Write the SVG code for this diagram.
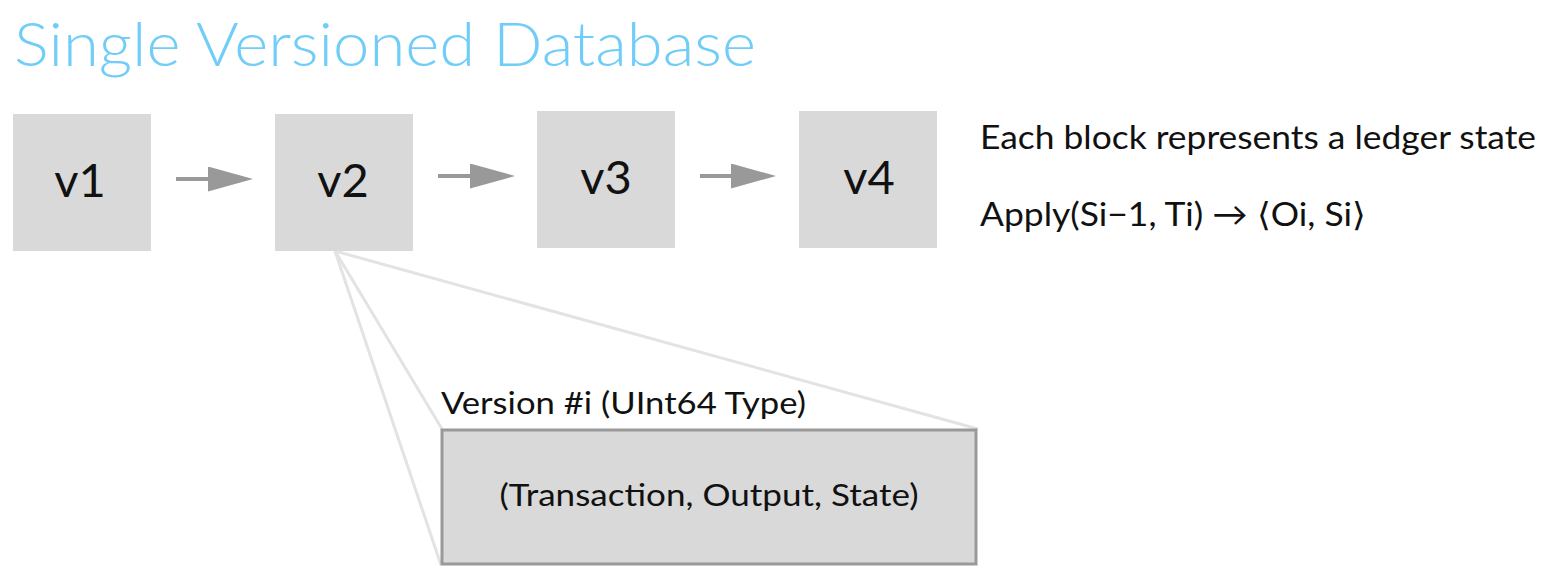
<svg xmlns="http://www.w3.org/2000/svg" width="1548" height="588" viewBox="0 0 1548 588">
<style>
  .blk { fill: #d9d9d9; }
  .lbl { font-family: Lato, "Open Sans", "Liberation Sans", sans-serif; fill: #111; }
  .vl { font-size: 47px; text-anchor: middle; }
  .arrow { stroke: #999; stroke-width: 4; fill: none; }
  .zoom { stroke: #e3e3e3; stroke-width: 3; fill: none; }
</style>
<defs>
  <marker id="ah" markerUnits="userSpaceOnUse" markerWidth="46" markerHeight="26" refX="0" refY="12.5" orient="auto">
    <path d="M0,0 L45,12.5 L0,25 Z" fill="#999"/>
  </marker>
</defs>
<rect width="1548" height="588" fill="#fff"/>
<text x="14" y="66" font-family="Lato, 'Open Sans', 'Liberation Sans', sans-serif" font-weight="300" font-size="62" fill="#70cdf8" textLength="742" lengthAdjust="spacingAndGlyphs">Single Versioned Database</text>

<g id="connectors">
  <line class="arrow" x1="176" y1="179" x2="208" y2="179" marker-end="url(#ah)"/>
  <line class="arrow" x1="438" y1="176" x2="470" y2="176" marker-end="url(#ah)"/>
  <line class="arrow" x1="700" y1="176" x2="731" y2="176" marker-end="url(#ah)"/>
  <line class="zoom" x1="335" y1="251" x2="442" y2="429"/>
  <line class="zoom" x1="335" y1="251" x2="441" y2="565"/>
  <line class="zoom" x1="335" y1="251" x2="978" y2="429"/>
</g>

<g id="v1">
  <rect class="blk" x="13" y="114" width="138" height="137"/>
  <text class="lbl vl" x="80" y="197">v1</text>
</g>
<g id="v2">
  <rect class="blk" x="275" y="114" width="138" height="137"/>
  <text class="lbl vl" x="343" y="197">v2</text>
</g>
<g id="v3">
  <rect class="blk" x="537" y="111" width="138" height="137"/>
  <text class="lbl vl" x="606" y="194">v3</text>
</g>
<g id="v4">
  <rect class="blk" x="799" y="111" width="138" height="137"/>
  <text class="lbl vl" x="869" y="194">v4</text>
</g>

<g id="notes">
  <text class="lbl" x="980" y="149" font-size="33" textLength="556" lengthAdjust="spacingAndGlyphs">Each block represents a ledger state</text>
  <text class="lbl" x="980" y="226" font-size="33" textLength="386" lengthAdjust="spacingAndGlyphs">Apply(Si−1, Ti) → ⟨Oi, Si⟩</text>
</g>

<g id="version-detail">
  <text class="lbl" x="441" y="414" font-size="30" textLength="365" lengthAdjust="spacingAndGlyphs">Version #i (UInt64 Type)</text>
  <rect x="442" y="430" width="534" height="134" fill="#d9d9d9" stroke="#999" stroke-width="3"/>
  <text class="lbl" x="709" y="506" font-size="30" text-anchor="middle" textLength="419" lengthAdjust="spacingAndGlyphs">(Transaction, Output, State)</text>
</g>
</svg>
